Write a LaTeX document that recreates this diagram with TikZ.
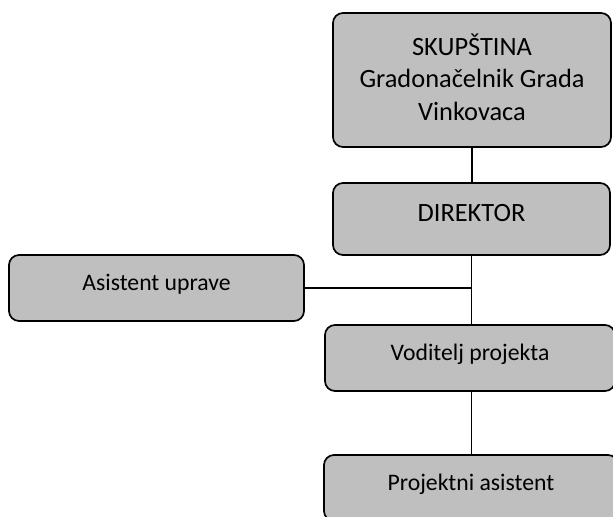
\documentclass[tikz,border=0pt]{standalone}
\usepackage{fontspec}
\setmainfont{Carlito}
\usepackage{tikz}
\definecolor{boxgray}{RGB}{191,191,191}

\begin{document}
\begin{tikzpicture}[x=0.5pt, y=-0.5pt]
        \tikzstyle{unit} = [rectangle, draw, fill=boxgray, line width=0.85pt, rounded corners=5pt, inner sep=0pt, outer sep=0pt, align=center]
        \tikzstyle{small} = [unit, font=\fontsize{11.85}{14}\selectfont, text height=8pt, text depth=5.5pt, minimum height=33pt]
        \tikzstyle{link} = [draw, line width=0.7pt]
        \useasboundingbox (0,0) rectangle (613,517);
        \clip (0,0) rectangle (613,517);
        \node (skup) [unit, minimum width=139pt, minimum height=67pt, font=\fontsize{13.2}{16.2}\selectfont, text depth=3pt] at (472,80) {
            SKUPŠTINA \\
            Gradonačelnik Grada \\
            Vinkovaca
        };
        \node (dir) [unit, minimum width=138.5pt, minimum height=36pt, font=\fontsize{13.2}{16.2}\selectfont, text height=9pt, text depth=6.5pt] at (471.5,219) {DIREKTOR};
        \node (asist) [small, minimum width=147.5pt] at (156.5,288) {Asistent uprave};
        \node (vod) [small, minimum width=145pt] at (470,358) {Voditelj projekta};
        \node (proj) [small, minimum width=147pt] at (471,488) {Projektni asistent};
        \draw[link] (skup.south) -- (skup.south |- dir.north);
        \draw[link] (dir.south) -- (dir.south |- vod.north);
        \draw[link] (asist.east) -- (asist.east -| dir.south);
        \draw[link] (dir.south |- vod.south) -- (dir.south |- proj.north);
    \end{tikzpicture}
\end{document}
